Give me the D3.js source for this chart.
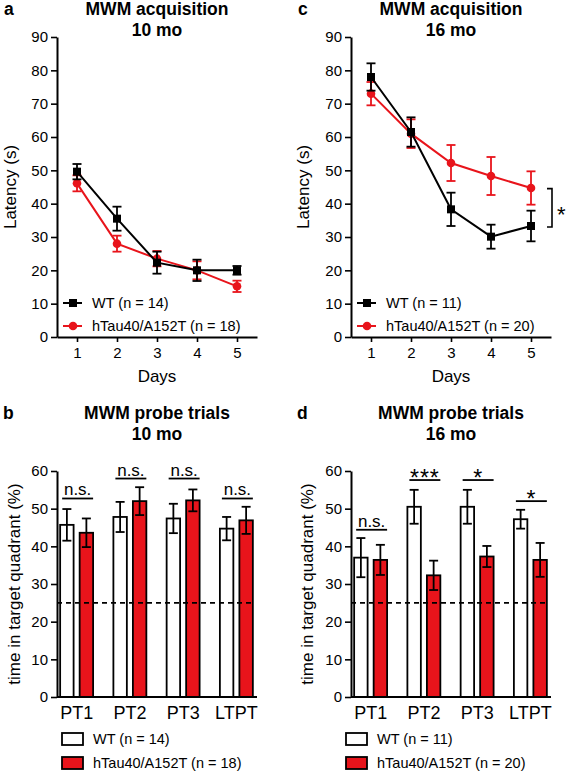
<!DOCTYPE html>
<html><head><meta charset="utf-8">
<script src="https://cdn.jsdelivr.net/npm/d3@7"></script>
<style>body{margin:0;background:#fff}svg{display:block}text{font-family:"Liberation Sans",Arial,Helvetica,sans-serif}</style>
</head><body>
<script>
// ---------- DATA ----------
const days = [1, 2, 3, 4, 5];
const latencyTicks = [0, 10, 20, 30, 40, 50, 60, 70, 80, 90];
// Panel a (10 mo)
const a_wt = [49.6, 35.5, 22.3, 20.0, 20.0];
const a_wtErr = [2.3, 3.6, 3.3, 3.2, 1.3];
const a_tg = [46.1, 28.0, 23.5, 20.0, 15.2];
const a_tgErr = [2.4, 2.4, 2.3, 2.7, 1.7];
// Panel c (16 mo)
const c_wt = [78.0, 61.5, 38.3, 30.1, 33.3];
const c_wtErr = [4.1, 4.4, 5.0, 3.6, 4.6];
const c_tg = [73.0, 61.0, 52.2, 48.3, 44.7];
const c_tgErr = [3.5, 4.3, 5.4, 5.7, 5.0];
// Probe trials
const trials = ["PT1", "PT2", "PT3", "LTPT"];
const pctTicks = [0, 10, 20, 30, 40, 50, 60];
const b_wt = [45.7, 47.8, 47.4, 44.7];
const b_wtErr = [4.2, 4.0, 3.9, 3.1];
const b_tg = [43.6, 52.0, 52.2, 46.9];
const b_tgErr = [3.8, 3.7, 2.9, 3.6];
const b_sig = ["n.s.", "n.s.", "n.s.", "n.s."];
const b_sigLevel = [52.7, 58.0, 58.0, 52.7];
const d_wt = [37.0, 50.5, 50.5, 47.2];
const d_wtErr = [5.2, 4.5, 4.5, 2.5];
const d_tg = [36.4, 32.3, 37.3, 36.4];
const d_tgErr = [4.0, 3.9, 2.8, 4.5];
const d_sig = ["n.s.", "***", "*", "*"];
const d_sigLevel = [44.4, 57.6, 57.6, 52.0];
const chanceLevel = 25;

const RED = "#e8141b";
const FONT_TICK = 15, FONT_AX = 17, FONT_TITLE = 17.5;

const svg = d3.select("body").append("svg").attr("width", 567).attr("height", 772);

function title(cx, y1, l1, l2, letter, lx) {
  svg.append("text").attr("x", cx).attr("y", y1).attr("text-anchor", "middle")
    .attr("font-weight", "bold").attr("font-size", FONT_TITLE).text(l1);
  svg.append("text").attr("x", cx).attr("y", y1 + 21).attr("text-anchor", "middle")
    .attr("font-weight", "bold").attr("font-size", FONT_TITLE).text(l2);
  svg.append("text").attr("x", lx).attr("y", y1).attr("font-weight", "bold")
    .attr("font-size", FONT_TITLE).text(letter);
}

function styleAxis(g, fs) {
  g.selectAll("text").attr("font-size", fs).attr("fill", "#000")
    .attr("font-family", '"Liberation Sans",Arial,sans-serif');
  g.selectAll("path.domain").attr("stroke-width", 2).attr("stroke", "#000");
  g.selectAll(".tick line").attr("stroke-width", 1.6).attr("stroke", "#000");
}

function linePanel(o) {
  const x = d3.scaleLinear().domain([0.5, 5.5]).range([o.ox, o.ox + 200]);
  const y = d3.scaleLinear().domain([0, 90]).range([337, 37]);
  const gy = svg.append("g").attr("transform", `translate(${o.ox},0)`)
    .call(d3.axisLeft(y).tickValues(latencyTicks).tickSize(6).tickPadding(3).tickSizeOuter(0));
  styleAxis(gy, FONT_TICK);
  const gx = svg.append("g").attr("transform", `translate(0,${y(0)})`)
    .call(d3.axisBottom(x).tickValues(days).tickFormat(d3.format("d")).tickSize(5).tickPadding(5).tickSizeOuter(0));
  styleAxis(gx, FONT_TICK);
  svg.append("text").attr("x", (o.ox + o.ox + 200) / 2).attr("y", 382).attr("text-anchor", "middle")
    .attr("font-size", FONT_AX).text("Days");
  svg.append("text").attr("transform", `translate(${o.ylx},${y(45)}) rotate(-90)`)
    .attr("text-anchor", "middle").attr("dominant-baseline", "central")
    .attr("font-size", FONT_AX).text("Latency (s)");
  title(x(3), 15, "MWM acquisition", o.sub, o.letter, o.ox - 53);

  const series = [
    { v: o.wt, e: o.wtErr, c: "#000", shape: "sq" },
    { v: o.tg, e: o.tgErr, c: RED, shape: "ci" }
  ];
  const line = d3.line().x((d, i) => x(days[i])).y(d => y(d));
  [1, 0].forEach(k => {
    const s = series[k];
    const g = svg.append("g");
    g.append("path").attr("d", line(s.v)).attr("fill", "none").attr("stroke", s.c).attr("stroke-width", 2);
    s.v.forEach((v, i) => {
      const cx = x(days[i]);
      const t = y(v + s.e[i]), b = y(v - s.e[i]);
      g.append("line").attr("x1", cx).attr("x2", cx).attr("y1", t).attr("y2", b).attr("stroke", s.c).attr("stroke-width", 1.8);
      [t, b].forEach(yy => g.append("line").attr("x1", cx - 4.5).attr("x2", cx + 4.5).attr("y1", yy).attr("y2", yy).attr("stroke", s.c).attr("stroke-width", 1.8));
      if (s.shape === "sq") g.append("rect").attr("x", cx - 4).attr("y", y(v) - 4).attr("width", 8).attr("height", 8).attr("fill", s.c);
      else g.append("circle").attr("cx", cx).attr("cy", y(v)).attr("r", 4.3).attr("fill", s.c);
    });
  });
  // legend
  const lg = [
    { t: o.lab1, c: "#000", shape: "sq", yy: 303 },
    { t: o.lab2, c: RED, shape: "ci", yy: 326 }
  ];
  lg.forEach(l => {
    svg.append("line").attr("x1", o.ox + 6).attr("x2", o.ox + 25).attr("y1", l.yy).attr("y2", l.yy).attr("stroke", l.c).attr("stroke-width", 2);
    if (l.shape === "sq") svg.append("rect").attr("x", o.ox + 12).attr("y", l.yy - 4).attr("width", 8).attr("height", 8).attr("fill", l.c);
    else svg.append("circle").attr("cx", o.ox + 16).attr("cy", l.yy).attr("r", 4.3).attr("fill", l.c);
    svg.append("text").attr("x", o.ox + 35).attr("y", l.yy + 5).attr("font-size", 14.5).text(l.t);
  });
  if (o.bracket) {
    const bx = x(5.5) + 1;
    const y1 = y(o.bracket[0]), y2 = y(o.bracket[1]);
    svg.append("path").attr("d", `M${bx - 5},${y1}H${bx}V${y2}H${bx - 5}`).attr("fill", "none").attr("stroke", "#000").attr("stroke-width", 1.6);
    svg.append("text").attr("x", bx + 5).attr("y", (y1 + y2) / 2 + 14).attr("font-size", 22).text("*");
  }
}

function barPanel(o) {
  const x = d3.scaleBand().domain(trials).range([o.ox - 7, o.ox + 206]).paddingInner(0).paddingOuter(0);
  const sub = d3.scaleBand().domain(["wt", "tg"]).range([0, x.bandwidth()]).paddingInner(0.31).paddingOuter(0.52);
  const y = d3.scaleLinear().domain([0, 60]).range([697, 471]);
  const gy = svg.append("g").attr("transform", `translate(${o.ox},0)`)
    .call(d3.axisLeft(y).tickValues(pctTicks).tickSize(6).tickPadding(3).tickSizeOuter(0));
  styleAxis(gy, FONT_TICK);
  svg.append("text").attr("transform", `translate(${o.ylx},${y(30)}) rotate(-90)`)
    .attr("text-anchor", "middle").attr("dominant-baseline", "central")
    .attr("font-size", FONT_AX).text("time in target quadrant (%)");
  title(o.ox + 100, 419, "MWM probe trials", o.sub, o.letter, o.ox - 54);

  const groups = [
    { k: "wt", v: o.wt, e: o.wtErr, fill: "#fff" },
    { k: "tg", v: o.tg, e: o.tgErr, fill: RED }
  ];
  groups.forEach(gp => {
    gp.v.forEach((v, i) => {
      const bx = x(trials[i]) + sub(gp.k), bw = sub.bandwidth();
      svg.append("rect").attr("x", bx).attr("y", y(v)).attr("width", bw).attr("height", y(0) - y(v))
        .attr("fill", gp.fill).attr("stroke", "#000").attr("stroke-width", 1.8);
      const cx = bx + bw / 2, t = y(v + gp.e[i]), b = y(v - gp.e[i]);
      svg.append("line").attr("x1", cx).attr("x2", cx).attr("y1", t).attr("y2", b).attr("stroke", "#000").attr("stroke-width", 1.8);
      [t, b].forEach(yy => svg.append("line").attr("x1", cx - 4.5).attr("x2", cx + 4.5).attr("y1", yy).attr("y2", yy).attr("stroke", "#000").attr("stroke-width", 1.8));
    });
  });
  // chance level
  svg.append("line").attr("x1", o.ox).attr("x2", o.ox + 196).attr("y1", y(chanceLevel)).attr("y2", y(chanceLevel))
    .attr("stroke", "#000").attr("stroke-width", 1.8).attr("stroke-dasharray", "5,4");
  // significance
  trials.forEach((t, i) => {
    const x1 = x(t) + sub("wt") + 2, x2 = x(t) + sub("tg") + sub.bandwidth();
    const yy = y(o.sigLevel[i]);
    svg.append("line").attr("x1", x1).attr("x2", x2).attr("y1", yy).attr("y2", yy).attr("stroke", "#000").attr("stroke-width", 1.8);
    const star = o.sig[i].indexOf("*") >= 0;
    svg.append("text").attr("x", (x1 + x2) / 2).attr("y", star ? yy + 6 : yy - 3).attr("text-anchor", "middle")
      .attr("font-size", star ? 23 : 17).attr("letter-spacing", star ? 1 : 0).text(o.sig[i]);
  });
  const gx = svg.append("g").attr("transform", `translate(0,${y(0)})`)
    .call(d3.axisBottom(x).tickSize(0).tickPadding(9).tickSizeOuter(0));
  gx.select("path.domain").attr("d", `M${o.ox},0H${o.ox + 200}`);
  styleAxis(gx, 18);
  // legend
  [{ t: o.lab1, f: "#fff", yy: 733 }, { t: o.lab2, f: RED, yy: 757 }].forEach(l => {
    svg.append("rect").attr("x", o.lgx).attr("y", l.yy).attr("width", 21).attr("height", 12)
      .attr("fill", l.f).attr("stroke", "#000").attr("stroke-width", 1.8);
    svg.append("text").attr("x", o.lgx + 31).attr("y", l.yy + 11).attr("font-size", 14.5).text(l.t);
  });
}

linePanel({ ox: 57, wt: a_wt, wtErr: a_wtErr, tg: a_tg, tgErr: a_tgErr, sub: "10 mo", letter: "a", ylx: 10,
  lab1: "WT (n = 14)", lab2: "hTau40/A152T (n = 18)" });
linePanel({ ox: 351, wt: c_wt, wtErr: c_wtErr, tg: c_tg, tgErr: c_tgErr, sub: "16 mo", letter: "c", ylx: 303,
  lab1: "WT (n = 11)", lab2: "hTau40/A152T (n = 20)", bracket: [44.5, 33] });
barPanel({ ox: 57, wt: b_wt, wtErr: b_wtErr, tg: b_tg, tgErr: b_tgErr, sig: b_sig, sigLevel: b_sigLevel,
  sub: "10 mo", letter: "b", ylx: 14, lgx: 62, lab1: "WT (n = 14)", lab2: "hTau40/A152T (n = 18)" });
barPanel({ ox: 351, wt: d_wt, wtErr: d_wtErr, tg: d_tg, tgErr: d_tgErr, sig: d_sig, sigLevel: d_sigLevel,
  sub: "16 mo", letter: "d", ylx: 307, lgx: 346, lab1: "WT (n = 11)", lab2: "hTau40/A152T (n = 20)" });
</script>
</body></html>
